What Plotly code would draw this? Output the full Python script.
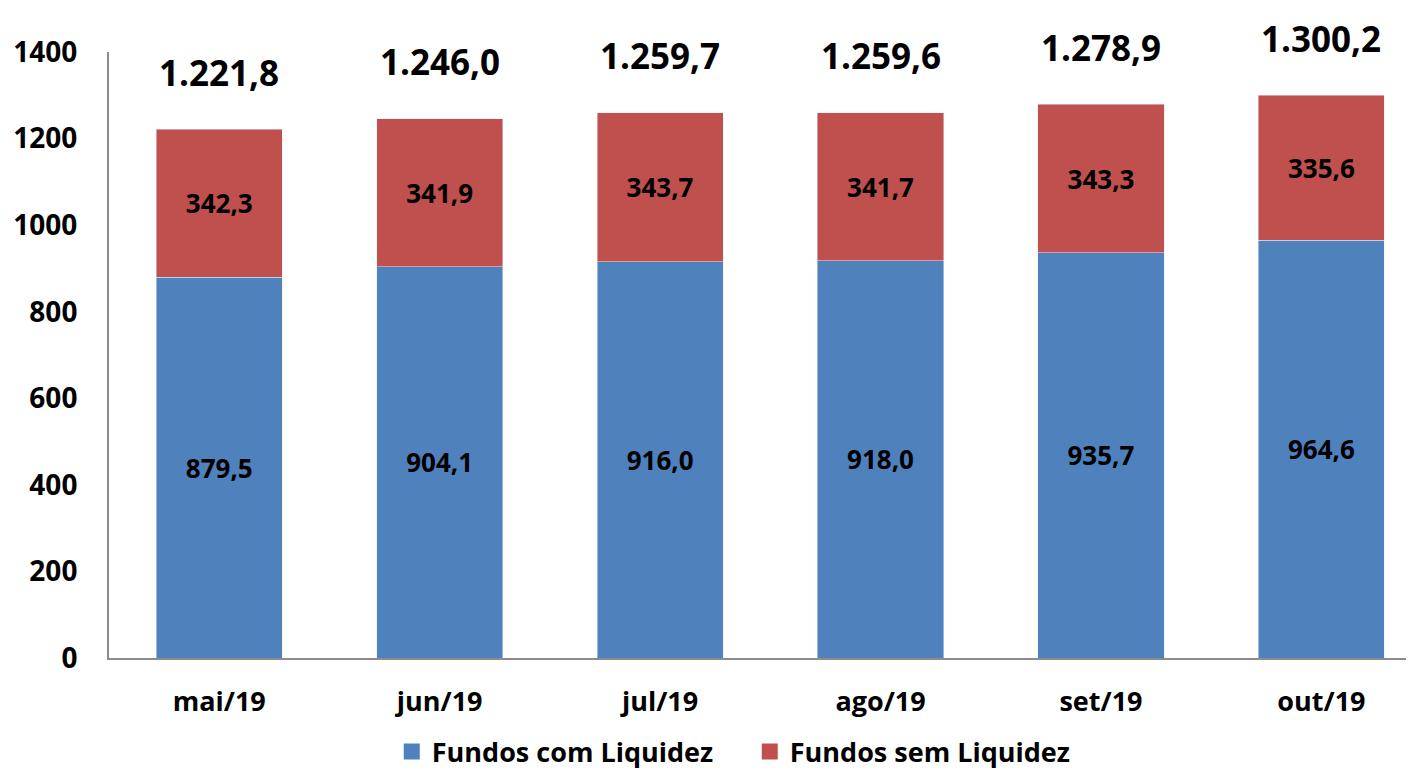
import plotly.graph_objects as go

categories = ["mai/19", "jun/19", "jul/19", "ago/19", "set/19", "out/19"]
com_liquidez = [879.5, 904.1, 916.0, 918.0, 935.7, 964.6]
sem_liquidez = [342.3, 341.9, 343.7, 341.7, 343.3, 335.6]
totais = [1221.8, 1246.0, 1259.7, 1259.6, 1278.9, 1300.2]
y_ticks = [0, 200, 400, 600, 800, 1000, 1200, 1400]
series_names = ["Fundos com Liquidez", "Fundos sem Liquidez"]
series_colors = ["#4F81BD", "#C0504D"]


def br(v, thousands=False):
    s = f"{v:,.1f}" if thousands else f"{v:.1f}"
    return s.replace(",", "X").replace(".", ",").replace("X", ".")


FONT = "Open Sans"
fig = go.Figure()
for name, color, vals in zip(series_names, series_colors, [com_liquidez, sem_liquidez]):
    fig.add_trace(go.Bar(
        x=categories, y=vals, name=name, showlegend=False,
        marker_color=color, width=0.572,
        text=[br(v) for v in vals], textposition="inside",
        insidetextanchor="middle", textangle=0,
        textfont=dict(family=FONT, size=26, color="black", weight="bold"),
    ))
# legend entries with larger square swatches
for name, color in zip(series_names, series_colors):
    fig.add_trace(go.Scatter(
        x=[None], y=[None], mode="markers", name=name,
        marker=dict(symbol="square", size=17, color=color),
    ))

for c, t in zip(categories, totais):
    fig.add_annotation(x=c, y=t, text=br(t, True), showarrow=False,
                       yshift=57, font=dict(family=FONT, size=35, color="black", weight="bold"))

fig.update_layout(
    barmode="stack",
    width=1406, height=770,
    margin=dict(l=101, r=0, t=44, b=120),
    plot_bgcolor="white", paper_bgcolor="white",
    font=dict(family=FONT, color="black"),
    uniformtext=dict(mode=False),
    legend=dict(orientation="h", x=0.491, xanchor="center", y=-0.155, yanchor="middle",
                font=dict(family=FONT, size=27, color="black", weight="bold"),
                itemwidth=30, itemsizing="trace", traceorder="normal", entrywidth=313),
    showlegend=True,
)
fig.update_xaxes(range=[-0.5, 5.42], showline=True, linecolor="#8c8c8c", linewidth=2,
                 showgrid=False, ticks="", automargin=False,
                 tickfont=dict(family=FONT, size=27, weight="bold"),
                 ticklabelstandoff=19)
fig.update_yaxes(range=[0, 1400], tickvals=y_ticks, showline=True, linecolor="#8c8c8c",
                 linewidth=2, showgrid=False, zeroline=False, ticks="", automargin=False,
                 tickfont=dict(family=FONT, size=28, weight="bold"), ticklabelstandoff=24)

fig.write_html("out.html")
